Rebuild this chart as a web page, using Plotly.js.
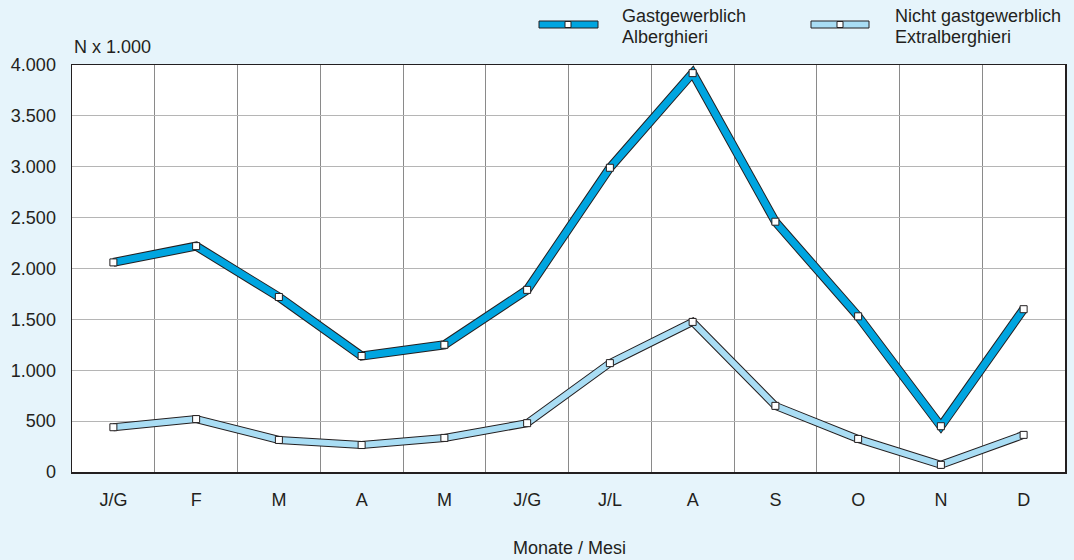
<!DOCTYPE html>
<html><head><meta charset="utf-8">
<script src="https://cdn.plot.ly/plotly-3.0.1.min.js"></script>
<style>html,body{margin:0;padding:0;background:#e6f4fb;}</style>
</head><body>
<div id="chart" style="width:1074px;height:560px;"></div>
<script>
const months = ['J/G','F','M','A','M ','J/G ','J/L','A ','S','O','N','D'];
const monthLabels = ['J/G','F','M','A','M','J/G','J/L','A','S','O','N','D'];
const alberghieri = [2060, 2220, 1720, 1140, 1250, 1790, 2990, 3920, 2460, 1530, 450, 1600];
const extralberghieri = [440, 520, 315, 265, 335, 480, 1070, 1475, 650, 325, 70, 365];
const seriesLine1 = ['Gastgewerblich', 'Nicht gastgewerblich'];
const seriesLine2 = ['Alberghieri', 'Extralberghieri'];

const dark = '#231f20';
const blue = '#00a5e0';
const light = '#a9ddf4';

const W = 1074, H = 560, M = {l:72, r:9, t:65, b:88};
const px = x => (x - M.l) / (W - M.l - M.r);
const py = y => 1 - (y - M.t) / (H - M.t - M.b);

function series(vals, color, outer, inner) {
  return [
    {x: months, y: vals, mode: 'lines', line: {color: dark, width: outer}, hoverinfo: 'skip', showlegend: false, cliponaxis: false},
    {x: months, y: vals, mode: 'lines', line: {color: color, width: inner}, showlegend: false, cliponaxis: false},
    {x: months, y: vals, mode: 'markers', marker: {symbol: 'square', size: 7, color: '#fff', line: {color: dark, width: 1}}, showlegend: false, cliponaxis: false}
  ];
}

const data = [...series(extralberghieri, light, 8, 6), ...series(alberghieri, blue, 9, 7)];

function legendItem(x0, x1, color, mx) {
  return [
    {type: 'rect', xref: 'paper', yref: 'paper', x0: px(x0), x1: px(x1), y0: py(28), y1: py(21), fillcolor: color, line: {color: dark, width: 1}},
    {type: 'rect', xref: 'paper', yref: 'paper', x0: px(mx - 3), x1: px(mx + 3), y0: py(27.5), y1: py(21.5), fillcolor: '#fff', line: {color: dark, width: 1}}
  ];
}

function label(text, x, y, anchor) {
  return {xref: 'paper', yref: 'paper', x: px(x), y: py(y), xanchor: anchor || 'left', yanchor: 'middle', text: text, showarrow: false, font: {size: 18}};
}

const layout = {
  width: W, height: H,
  margin: M,
  paper_bgcolor: '#e6f4fb',
  plot_bgcolor: '#ffffff',
  separators: ',.',
  font: {family: 'Liberation Sans, Arial, sans-serif', size: 18, color: dark},
  showlegend: false,
  xaxis: {
    type: 'category', tickson: 'boundaries', ticks: '', ticklabelstandoff: 11,
    tickvals: months, ticktext: monthLabels, tickfont: {size: 18},
    showgrid: true, gridcolor: '#8a8a8a', gridwidth: 1,
    showline: true, linecolor: dark, linewidth: 1.5, mirror: true,
    range: [-0.5, 11.5], zeroline: false, fixedrange: true
  },
  yaxis: {
    range: [0, 4000], dtick: 500, tickformat: ',d', ticks: '', ticklabelstandoff: 11, tickfont: {size: 18},
    showgrid: true, gridcolor: '#b5b5b5', gridwidth: 1,
    showline: true, linecolor: dark, linewidth: 1.5, mirror: true,
    zeroline: false, fixedrange: true
  },
  shapes: [...legendItem(539, 598, blue, 568), ...legendItem(811, 869, light, 840)],
  annotations: [
    label('N x 1.000', 72, 47),
    label(seriesLine1[0], 620, 16), label(seriesLine2[0], 620, 37),
    label(seriesLine1[1], 893, 16), label(seriesLine2[1], 893, 37),
    label('Monate / Mesi', 569, 548, 'center')
  ]
};

Plotly.newPlot('chart', data, layout, {displayModeBar: false, staticPlot: true});
</script>
</body></html>
